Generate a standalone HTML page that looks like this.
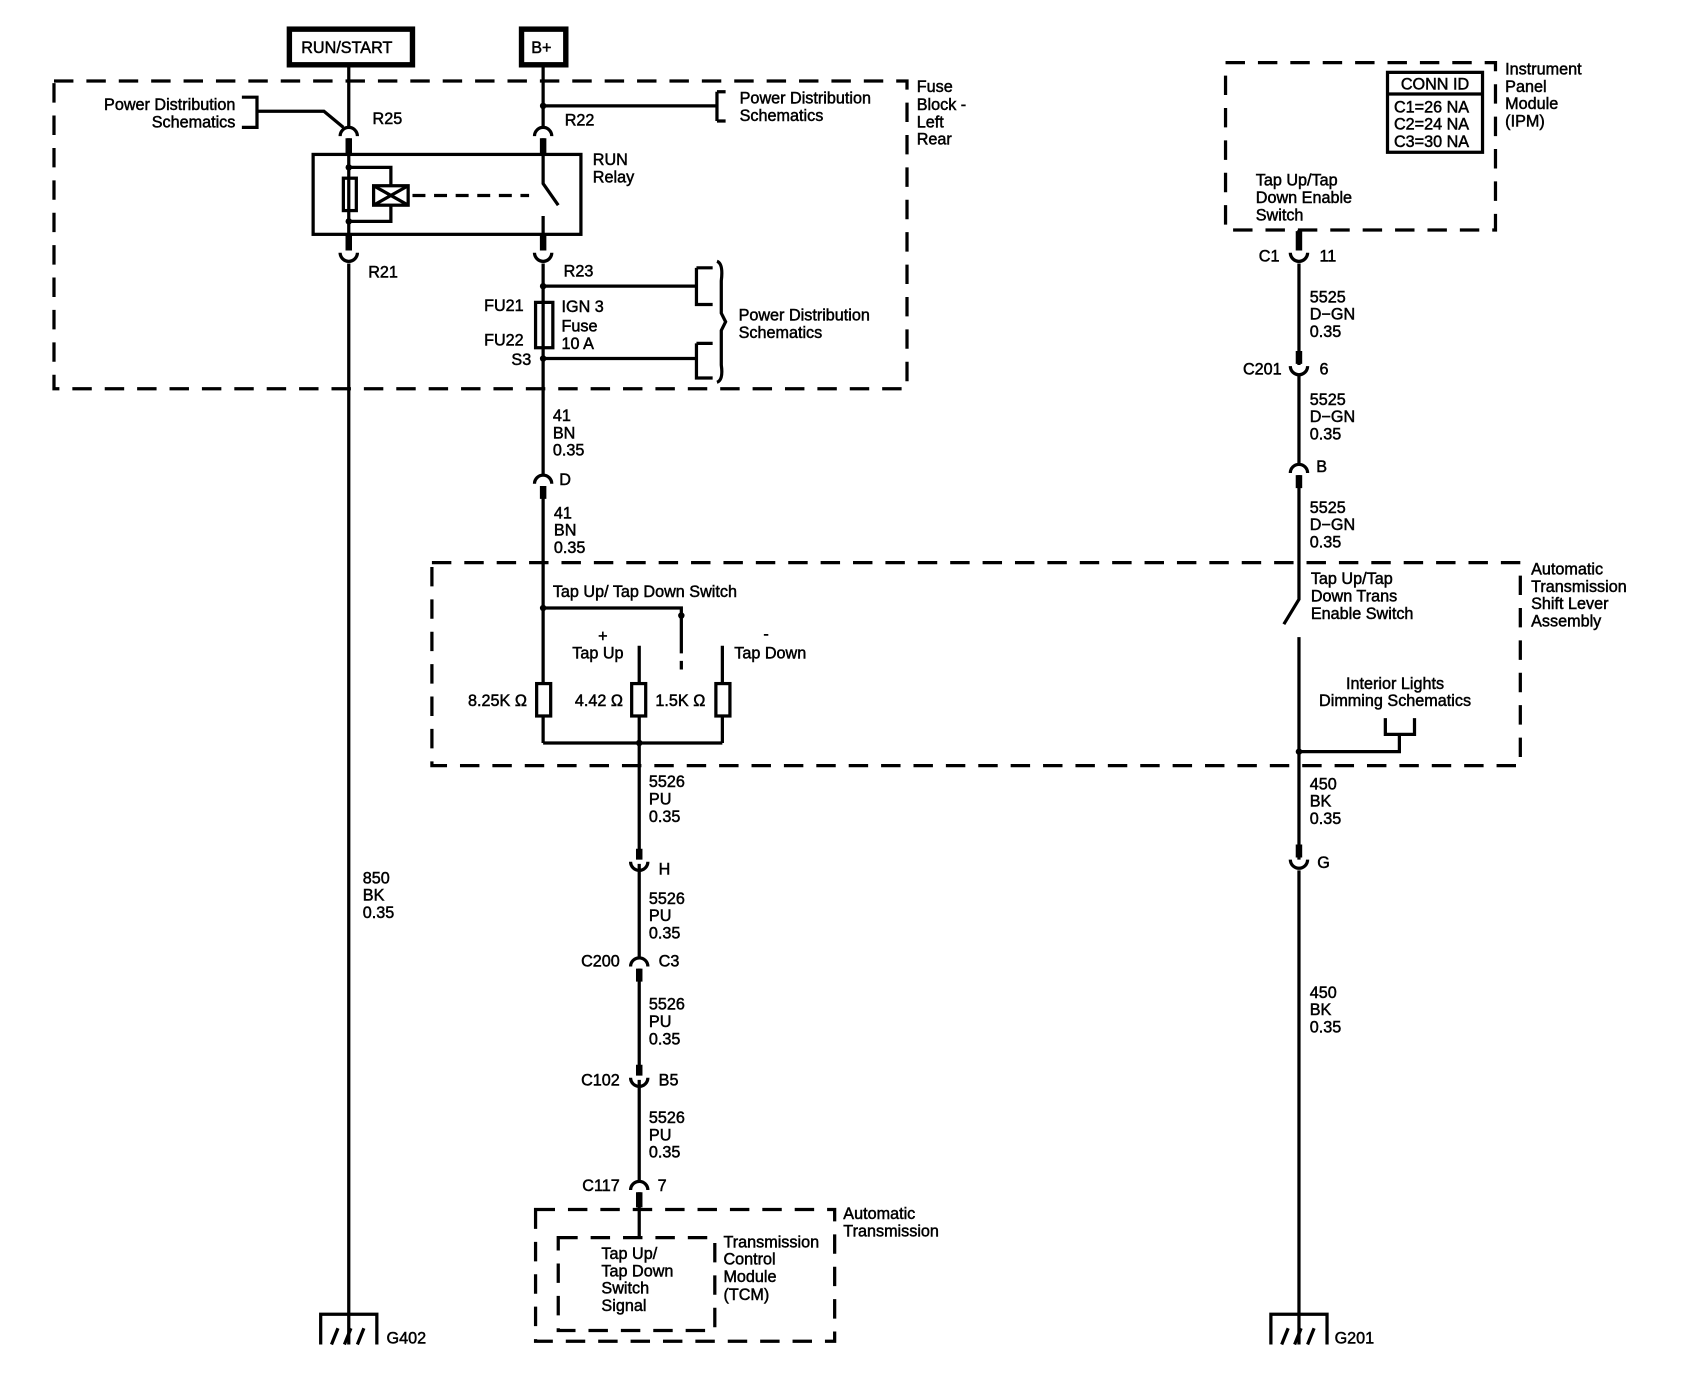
<!DOCTYPE html>
<html><head><style>html,body{margin:0;padding:0;background:#fff}svg{display:block}text{font-family:"Liberation Sans",sans-serif;font-size:15px;fill:#000;stroke:#000;stroke-width:0.45}</style></head>
<body>
<svg width="1692" height="1392" viewBox="0 0 1567 1289" preserveAspectRatio="none" xmlns="http://www.w3.org/2000/svg">
<g fill="none" stroke="#000" stroke-width="3">
<rect x="268" y="27" width="114" height="33" stroke-width="5"/>
<rect x="483" y="27" width="41" height="33" stroke-width="5"/>
<g stroke-dasharray="18,12">
<rect x="50" y="75" width="790" height="285"/>
<rect x="400" y="521" width="1008" height="188"/>
<rect x="496" y="1120" width="277" height="122"/>
<rect x="517" y="1146" width="145" height="86"/>
<rect x="1135" y="58" width="250" height="155"/>
</g>
<path d="M323 60V118M323 128V232M323 244V1245"/>
<path d="M315 126A8 8 0 0 1 331 126M315 234A8 8 0 0 0 331 234"/>
<path d="M323 128V142M323 218V232" stroke-width="6"/>
<path d="M224 90H238V118H224M238 103H300L318 118"/>
<rect x="290" y="143" width="248" height="74"/>
<rect x="318" y="165" width="12" height="30"/>
<path d="M323 155H362V172M323 205H362V190"/>
<rect x="346" y="172" width="32" height="18"/>
<path d="M346 172L378 190M378 172L346 190"/>
<path d="M382 181H490" stroke-dasharray="12,8"/>
<path d="M503 60V118M503 128V170L517 190M503 200V232M503 244V440M503 450V688"/>
<path d="M495 126A8 8 0 0 1 511 126M495 234A8 8 0 0 0 511 234M495 448A8 8 0 0 1 511 448"/>
<path d="M503 128V142M503 218V232M503 450V462" stroke-width="6"/>
<path d="M503 98H664M664 85V112M664 85H672M664 112H672"/>
<path d="M503 265H645M503 332H645M645 248H660M645 248V282H660M645 318H660M645 318V350H660"/>
<path d="M664 242Q670 244 668 260V290L672 298L668 306V338Q670 352 664 354"/>
<rect x="496" y="280" width="16" height="42"/>
<path d="M503 563H631V605M631 612V620M592 598V688M669 598V688M503 688H669"/>
<rect x="497" y="633" width="13" height="30" fill="#fff"/>
<rect x="585" y="633" width="13" height="30" fill="#fff"/>
<rect x="663" y="633" width="13" height="30" fill="#fff"/>
<path d="M592 688V788M592 800V886M592 897V988M592 1000V1094M592 1104V1146"/>
<path d="M584 798A8 8 0 0 0 600 798M584 895A8 8 0 0 1 600 895M584 998A8 8 0 0 0 600 998M584 1102A8 8 0 0 1 600 1102"/>
<path d="M592 786V796M592 897V909M592 986V996M592 1104V1118" stroke-width="6"/>
<path d="M1203 213V232M1203 244V338M1203 348V430M1203 440V555L1189 578M1203 590V796M1203 806V1245"/>
<path d="M1195 234A8 8 0 0 0 1211 234M1195 339A8 8 0 0 0 1211 339M1195 438A8 8 0 0 1 1211 438M1195 796A8 8 0 0 0 1211 796"/>
<path d="M1203 214V232M1203 325V337M1203 440V452M1203 782V794" stroke-width="6"/>
<path d="M1283 665V680H1310V665M1296 680V696H1203"/>
<rect x="1285" y="67" width="88" height="74" stroke-width="3"/>
<path d="M1285 87H1373"/>
<path d="M297 1245V1217H349V1245M307 1245L313 1230M319 1245L325 1230M331 1245L337 1230"/>
<path d="M1177 1245V1217H1229V1245M1187 1245L1193 1230M1199 1245L1205 1230M1211 1245L1217 1230"/>
</g>
<g fill="#000">
<circle cx="323" cy="155" r="3"/><circle cx="323" cy="205" r="3"/>
<circle cx="503" cy="98" r="3"/><circle cx="503" cy="265" r="3"/><circle cx="503" cy="332" r="3"/>
<circle cx="503" cy="563" r="3"/><circle cx="631" cy="570" r="3"/><circle cx="592" cy="688" r="3"/>
<circle cx="1203" cy="696" r="3"/>
</g>
<text x="279" y="49">RUN/START</text><text x="492" y="49">B+</text>
<text x="218" y="102" text-anchor="end">Power Distribution</text><text x="218" y="118" text-anchor="end">Schematics</text>
<text x="345" y="115">R25</text><text x="523" y="116">R22</text>
<text x="685" y="96">Power Distribution</text><text x="685" y="112">Schematics</text>
<text x="849" y="85">Fuse</text><text x="849" y="102">Block -</text><text x="849" y="118">Left</text><text x="849" y="134">Rear</text>
<text x="549" y="153">RUN</text><text x="549" y="169">Relay</text>
<text x="341" y="257">R21</text><text x="522" y="256">R23</text>
<text x="485" y="288" text-anchor="end">FU21</text><text x="485" y="320" text-anchor="end">FU22</text><text x="492" y="338" text-anchor="end">S3</text>
<text x="520" y="289">IGN 3</text><text x="520" y="307">Fuse</text><text x="520" y="323">10 A</text>
<text x="684" y="297">Power Distribution</text><text x="684" y="313">Schematics</text>
<text x="512" y="390">41</text><text x="512" y="406">BN</text><text x="512" y="422">0.35</text>
<text x="518" y="449">D</text>
<text x="513" y="480">41</text><text x="513" y="496">BN</text><text x="513" y="512">0.35</text>
<text x="512" y="553">Tap Up/ Tap Down Switch</text>
<text x="554" y="594">+</text><text x="530" y="610">Tap Up</text>
<text x="707" y="592">-</text><text x="680" y="610">Tap Down</text>
<text x="488" y="654" text-anchor="end">8.25K Ω</text><text x="577" y="654" text-anchor="end">4.42 Ω</text><text x="607" y="654">1.5K Ω</text>
<text x="601" y="729">5526</text><text x="601" y="745">PU</text><text x="601" y="761">0.35</text>
<text x="610" y="810">H</text>
<text x="601" y="837">5526</text><text x="601" y="853">PU</text><text x="601" y="869">0.35</text>
<text x="574" y="895" text-anchor="end">C200</text><text x="610" y="895">C3</text>
<text x="601" y="935">5526</text><text x="601" y="951">PU</text><text x="601" y="967">0.35</text>
<text x="574" y="1005" text-anchor="end">C102</text><text x="610" y="1005">B5</text>
<text x="601" y="1040">5526</text><text x="601" y="1056">PU</text><text x="601" y="1072">0.35</text>
<text x="574" y="1103" text-anchor="end">C117</text><text x="609" y="1103">7</text>
<text x="781" y="1129">Automatic</text><text x="781" y="1145">Transmission</text>
<text x="670" y="1155">Transmission</text><text x="670" y="1171">Control</text><text x="670" y="1187">Module</text><text x="670" y="1204">(TCM)</text>
<text x="557" y="1166">Tap Up/</text><text x="557" y="1182">Tap Down</text><text x="557" y="1198">Switch</text><text x="557" y="1214">Signal</text>
<text x="336" y="818">850</text><text x="336" y="834">BK</text><text x="336" y="850">0.35</text>
<text x="358" y="1244">G402</text><text x="1236" y="1244">G201</text>
<text x="1329" y="83" text-anchor="middle">CONN ID</text>
<text x="1291" y="104">C1=26 NA</text><text x="1291" y="120">C2=24 NA</text><text x="1291" y="136">C3=30 NA</text>
<text x="1394" y="69">Instrument</text><text x="1394" y="85">Panel</text><text x="1394" y="101">Module</text><text x="1394" y="117">(IPM)</text>
<text x="1163" y="172">Tap Up/Tap</text><text x="1163" y="188">Down Enable</text><text x="1163" y="204">Switch</text>
<text x="1185" y="242" text-anchor="end">C1</text><text x="1222" y="242">11</text>
<text x="1213" y="280">5525</text><text x="1213" y="296">D−GN</text><text x="1213" y="312">0.35</text>
<text x="1187" y="347" text-anchor="end">C201</text><text x="1222" y="347">6</text>
<text x="1213" y="375">5525</text><text x="1213" y="391">D−GN</text><text x="1213" y="407">0.35</text>
<text x="1219" y="437">B</text>
<text x="1213" y="475">5525</text><text x="1213" y="491">D−GN</text><text x="1213" y="507">0.35</text>
<text x="1214" y="541">Tap Up/Tap</text><text x="1214" y="557">Down Trans</text><text x="1214" y="573">Enable Switch</text>
<text x="1418" y="532">Automatic</text><text x="1418" y="548">Transmission</text><text x="1418" y="564">Shift Lever</text><text x="1418" y="580">Assembly</text>
<text x="1292" y="638" text-anchor="middle">Interior Lights</text><text x="1292" y="654" text-anchor="middle">Dimming Schematics</text>
<text x="1213" y="731">450</text><text x="1213" y="747">BK</text><text x="1213" y="763">0.35</text>
<text x="1220" y="804">G</text>
<text x="1213" y="924">450</text><text x="1213" y="940">BK</text><text x="1213" y="956">0.35</text>
</svg>
</body></html>
